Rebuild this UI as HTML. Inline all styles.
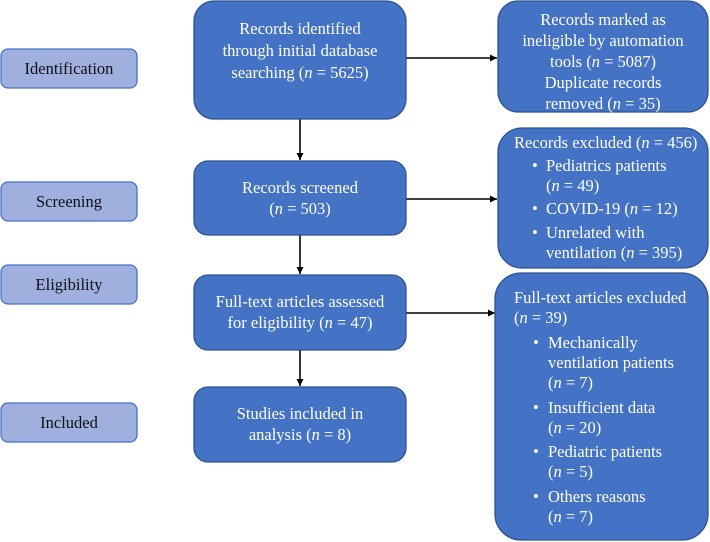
<!DOCTYPE html>
<html><head><style>
html,body{margin:0;padding:0;background:#fff;}
svg{display:block;}
text{font-family:"Liberation Serif",serif;font-size:16.5px;}
.w{fill:#fff;}
.k{fill:#111;}
.m{fill:#4472c4;stroke:#2f528f;stroke-width:1.3;}
.l{fill:#9fb0de;stroke:#4472c4;stroke-width:1.3;}
</style></head><body>
<svg width="710" height="542" viewBox="0 0 710 542" xmlns="http://www.w3.org/2000/svg">
<defs><marker id="a" markerWidth="8" markerHeight="8" refX="7" refY="4" orient="auto" markerUnits="userSpaceOnUse"><path d="M0,0.5 L7,4 L0,7.5z" fill="#000"/></marker></defs>
<rect class="l" x="1" y="49" width="136" height="39" rx="7"/>
<text class="k" x="69" y="74" text-anchor="middle">Identification</text>
<rect class="l" x="1" y="182" width="136" height="39" rx="7"/>
<text class="k" x="69" y="207" text-anchor="middle">Screening</text>
<rect class="l" x="1" y="265" width="136" height="39" rx="7"/>
<text class="k" x="69" y="290" text-anchor="middle">Eligibility</text>
<rect class="l" x="1" y="403" width="136" height="39" rx="7"/>
<text class="k" x="69" y="428" text-anchor="middle">Included</text>
<g stroke="#000" stroke-width="1.6" fill="none">
<line x1="300" y1="119" x2="300" y2="160" marker-end="url(#a)"/>
<line x1="300" y1="235" x2="300" y2="274" marker-end="url(#a)"/>
<line x1="300" y1="350" x2="300" y2="386" marker-end="url(#a)"/>
<line x1="406" y1="58" x2="497" y2="58" marker-end="url(#a)"/>
<line x1="406" y1="199" x2="497" y2="199" marker-end="url(#a)"/>
<line x1="406" y1="313" x2="495" y2="313" marker-end="url(#a)"/>
</g>
<rect class="m" x="194" y="1" width="212" height="118" rx="20"/>
<text class="w" x="300" y="34" text-anchor="middle">Records identified</text>
<text class="w" x="300" y="56" text-anchor="middle">through initial database</text>
<text class="w" x="300" y="78" text-anchor="middle">searching (<tspan font-style="italic">n</tspan> = 5625)</text>
<rect class="m" x="194" y="161" width="212" height="74" rx="14"/>
<text class="w" x="300" y="193" text-anchor="middle">Records screened</text>
<text class="w" x="300" y="214" text-anchor="middle">(<tspan font-style="italic">n</tspan> = 503)</text>
<rect class="m" x="194" y="275" width="212" height="75" rx="14"/>
<text class="w" x="300" y="307" text-anchor="middle">Full-text articles assessed</text>
<text class="w" x="300" y="328" text-anchor="middle">for eligibility (<tspan font-style="italic">n</tspan> = 47)</text>
<rect class="m" x="194" y="387" width="212" height="75" rx="14"/>
<text class="w" x="300" y="419" text-anchor="middle">Studies included in</text>
<text class="w" x="300" y="440" text-anchor="middle">analysis (<tspan font-style="italic">n</tspan> = 8)</text>
<rect class="m" x="498" y="1" width="210" height="111" rx="20"/>
<text class="w" x="603" y="25" text-anchor="middle">Records marked as</text>
<text class="w" x="603" y="46" text-anchor="middle">ineligible by automation</text>
<text class="w" x="603" y="67" text-anchor="middle">tools (<tspan font-style="italic">n</tspan> = 5087)</text>
<text class="w" x="603" y="88" text-anchor="middle">Duplicate records</text>
<text class="w" x="603" y="109" text-anchor="middle">removed (<tspan font-style="italic">n</tspan> = 35)</text>
<rect class="m" x="498" y="128" width="210" height="140" rx="24"/>
<text class="w" x="514" y="148">Records excluded (<tspan font-style="italic">n</tspan> = 456)</text>
<text class="w" x="532" y="171">•</text><text class="w" x="546" y="171">Pediatrics patients</text>
<text class="w" x="546" y="191">(<tspan font-style="italic">n</tspan> = 49)</text>
<text class="w" x="532" y="214">•</text><text class="w" x="546" y="214">COVID-19 (<tspan font-style="italic">n</tspan> = 12)</text>
<text class="w" x="532" y="238">•</text><text class="w" x="546" y="238">Unrelated with</text>
<text class="w" x="546" y="258">ventilation (<tspan font-style="italic">n</tspan> = 395)</text>
<rect class="m" x="495" y="273" width="213" height="267" rx="26"/>
<text class="w" x="514" y="303">Full-text articles excluded</text>
<text class="w" x="514" y="323">(<tspan font-style="italic">n</tspan> = 39)</text>
<text class="w" x="533" y="348">•</text><text class="w" x="548" y="348">Mechanically</text>
<text class="w" x="548" y="368">ventilation patients</text>
<text class="w" x="548" y="388">(<tspan font-style="italic">n</tspan> = 7)</text>
<text class="w" x="533" y="413">•</text><text class="w" x="548" y="413">Insufficient data</text>
<text class="w" x="548" y="433">(<tspan font-style="italic">n</tspan> = 20)</text>
<text class="w" x="533" y="457">•</text><text class="w" x="548" y="457">Pediatric patients</text>
<text class="w" x="548" y="477">(<tspan font-style="italic">n</tspan> = 5)</text>
<text class="w" x="533" y="502">•</text><text class="w" x="548" y="502">Others reasons</text>
<text class="w" x="548" y="522">(<tspan font-style="italic">n</tspan> = 7)</text>
</svg>
</body></html>
